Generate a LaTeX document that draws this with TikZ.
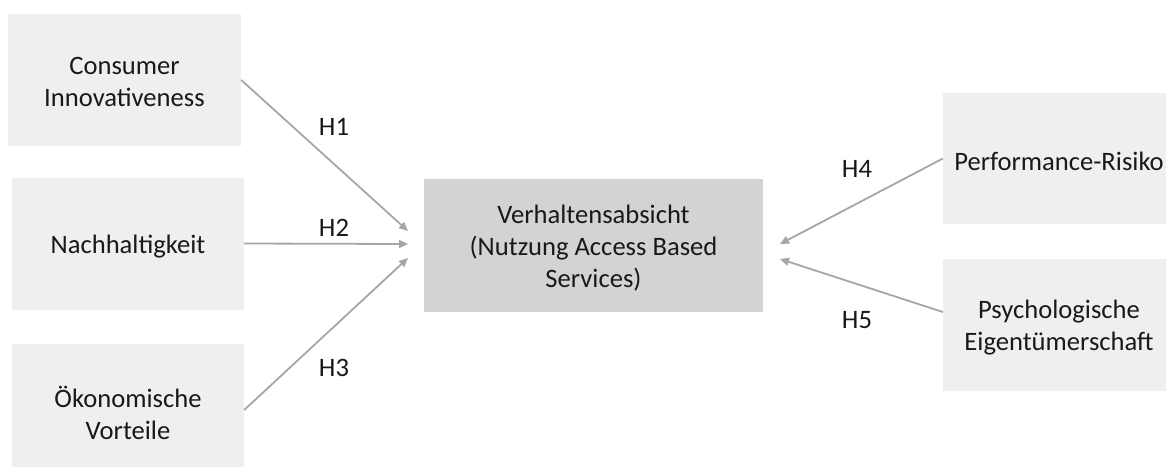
\documentclass[tikz,border=0pt]{standalone}
\usepackage{fontspec}
\setmainfont{Carlito}
\usetikzlibrary{arrows.meta}
\definecolor{sidefill}{HTML}{EFEFEF}
\definecolor{centerfill}{HTML}{D3D3D3}
\definecolor{arrowgray}{HTML}{A6A6A6}
\tikzset{
  box/.style={rectangle, fill=sidefill, draw=none, inner sep=0pt},
  centerbox/.style={box, fill=centerfill},
  boxtext/.style={align=center, inner sep=0pt, text=black!90,
    font=\fontsize{26.6}{32}\selectfont},
  conn/.style={draw=arrowgray, line width=1.8pt, -{Triangle[length=9pt,width=8pt]}},
  hlabel/.style={font=\fontsize{26.6}{32}\selectfont, inner sep=0pt, text=black!90}
}
\begin{document}
\begin{tikzpicture}[x=1pt,y=-1pt]
\useasboundingbox (0,0) rectangle (1166,466);
\begin{scope}
\clip (0,0) rectangle (1166,466);
\node[box, minimum width=233pt, minimum height=132pt] (ci) at (124.5,80) {};
\node[box, minimum width=232pt, minimum height=132pt] (na) at (128,243.5) {};
\node[box, minimum width=232pt, minimum height=132pt] (ok) at (128,410) {};
\node[centerbox, minimum width=339pt, minimum height=133pt] (va) at (593.5,245.5) {};
\node[box, minimum width=232pt, minimum height=131pt] (pr) at (1059,158.5) {};
\node[box, minimum width=232pt, minimum height=132pt] (pe) at (1059,325) {};
\end{scope}
\node[boxtext] (ci-t) at ([yshift=-2pt]ci.center) {Consumer\\Innovativeness};
\node[boxtext] (na-t) at ([yshift=-3pt]na.center) {Nachhaltigkeit};
\node[boxtext] (ok-t) at ([yshift=-3pt]ok.center) {Ökonomische\\Vorteile};
\node[boxtext] (va-t) at ([yshift=-3pt]va.center) {Verhaltensabsicht\\(Nutzung Access Based\\Services)};
\node[boxtext] (pr-t) at ([yshift=-3pt]pr.center) {Performance-Risiko};
\node[boxtext] (pe-t) at ([yshift=-3pt]pe.center) {Psychologische\\Eigentümerschaft};
\coordinate (t1) at (408,231);
\coordinate (t2) at (408,244);
\coordinate (t3) at (408,258);
\coordinate (t4) at (780,244);
\coordinate (t5) at (780,259);
\draw[conn] (ci.east) -- (t1);
\draw[conn] (na.east) -- (t2);
\draw[conn] (ok.east) -- (t3);
\draw[conn] (pr.west) -- (t4);
\draw[conn] ([yshift=13pt]pe.west) -- (t5);
\node[hlabel] (h1) at (334,127) {H1};
\node[hlabel] (h2) at (334,228) {H2};
\node[hlabel] (h3) at (334,368) {H3};
\node[hlabel] (h4) at (857,169) {H4};
\node[hlabel] (h5) at (857,320) {H5};
\end{tikzpicture}
\end{document}
